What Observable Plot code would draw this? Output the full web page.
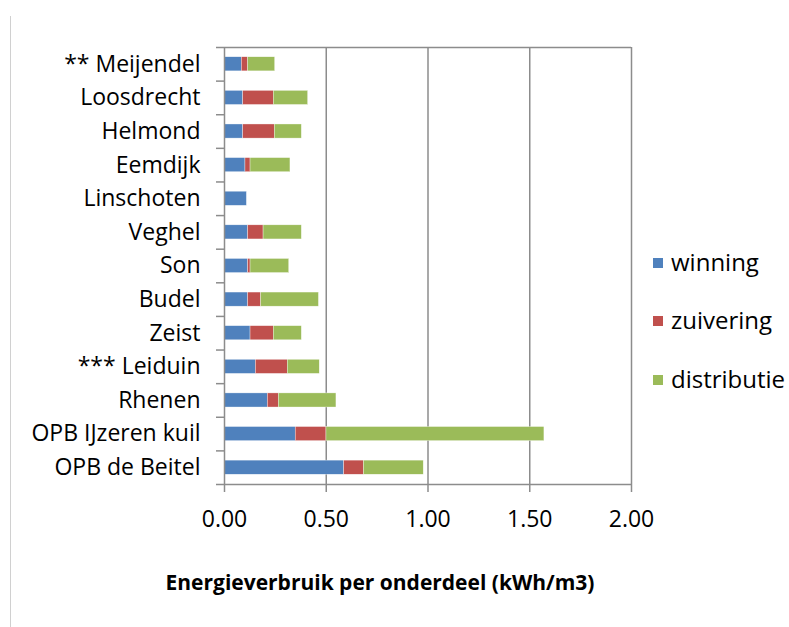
<!DOCTYPE html>
<html>
<head>
<meta charset="utf-8">
<script src="https://cdn.jsdelivr.net/npm/d3@7"></script>
<script src="https://cdn.jsdelivr.net/npm/@observablehq/plot@0.6"></script>
<style>
  html, body { margin: 0; padding: 0; background: #fff; }
  #wrap { position: relative; width: 789px; height: 627px; overflow: hidden; font-family: "Open Sans", sans-serif; }
  #edge { position: absolute; left: 10px; top: 16px; height: 611px; border-left: 1px solid #d0d0d0; }
  #chart { position: absolute; left: 0; top: 0; }
  #legend { position: absolute; left: 653px; top: 246px; }
  .item { position: absolute; left: 0; white-space: nowrap; font-size: 24px; line-height: 32px; color: #000; }
  .sw { display: inline-block; width: 10px; height: 10px; margin-right: 8px; vertical-align: middle; position: relative; top: -2px; }
  #xlabel { position: absolute; left: 380px; top: 582px; transform: translate(-50%, -50%); white-space: nowrap; font-weight: bold; font-size: 21px; color: #000; }
</style>
</head>
<body>
<div id="wrap"><div id="edge"></div><div id="chart"></div><div id="legend"></div><div id="xlabel"></div></div>
<script>
const categories = ["** Meijendel","Loosdrecht","Helmond","Eemdijk","Linschoten","Veghel","Son","Budel","Zeist","*** Leiduin","Rhenen","OPB IJzeren kuil","OPB de Beitel"];
const winning     = [0.085,0.092,0.092,0.103,0.110,0.116,0.116,0.116,0.128,0.154,0.213,0.350,0.588];
const zuivering   = [0.031,0.150,0.155,0.025,0.000,0.076,0.012,0.064,0.114,0.157,0.054,0.151,0.097];
const distributie = [0.133,0.169,0.133,0.196,0.000,0.188,0.190,0.284,0.138,0.157,0.283,1.071,0.294];
const components = ["winning","zuivering","distributie"];
const colors = ["#4F81BD","#C0504D","#9BBB59"];
const xTicks = [0, 0.5, 1, 1.5, 2];
const xLabel = "Energieverbruik per onderdeel (kWh/m3)";

const series = [winning, zuivering, distributie];
const data = [];
categories.forEach((name, i) => components.forEach((c, j) => data.push({name, component: c, value: series[j][i]})));

const W = 789, H = 627, mL = 224, mR = 158, mT = 47, mB = 143;
const step = (H - mT - mB) / categories.length;
const tickLen = 8 / ((W - mL - mR) / 2);
const gray = "#8c8c8c";

const chart = Plot.plot({
  width: W, height: H,
  marginLeft: mL, marginRight: mR, marginTop: mT, marginBottom: mB,
  style: {fontFamily: "Open Sans, sans-serif", fontSize: "23px", color: "#000", background: "transparent", overflow: "visible"},
  x: {domain: [0, 2]},
  y: {domain: categories, paddingInner: 0.58, paddingOuter: 0.29, align: 0.5, round: false},
  color: {domain: components, range: colors},
  marks: [
    Plot.gridX(xTicks.slice(1), {stroke: gray, strokeOpacity: 1, strokeWidth: 1.5}),
    Plot.barX(data, Plot.stackX({y: "name", x: "value", fill: "component", order: components, stroke: "#fff", strokeWidth: 0.5, strokeOpacity: 0.7})),
    Plot.ruleY(categories.slice(1), {y: d => d, dy: -step / 2, x1: -tickLen, x2: 0, stroke: gray, strokeWidth: 1.5}),
    Plot.ruleY([categories[0]], {y: d => d, dy: -step / 2, x1: -tickLen, x2: 2, stroke: gray, strokeWidth: 1.5}),
    Plot.ruleY([categories[categories.length - 1]], {y: d => d, dy: step / 2, x1: -tickLen, x2: 2, stroke: gray, strokeWidth: 1.5}),
    Plot.ruleX([0], {stroke: gray, strokeWidth: 1.5}),
    Plot.axisY({tickSize: 0, tickPadding: 24, label: null, fontSize: 23}),
    Plot.axisX({ticks: xTicks, tickFormat: d3.format(".2f"), tickSize: 8, stroke: gray, strokeWidth: 1.5, tickPadding: 18, fontSize: 23, label: null})
  ]
});
document.getElementById("chart").appendChild(chart);
document.getElementById("xlabel").textContent = xLabel;

const legend = document.getElementById("legend");
const legendTops = [0, 58, 117];
components.forEach((c, i) => {
  const div = document.createElement("div");
  div.className = "item";
  div.style.top = legendTops[i] + "px";
  div.innerHTML = `<span class="sw" style="background:${colors[i]}"></span>${c}`;
  legend.appendChild(div);
});
</script>
</body>
</html>
